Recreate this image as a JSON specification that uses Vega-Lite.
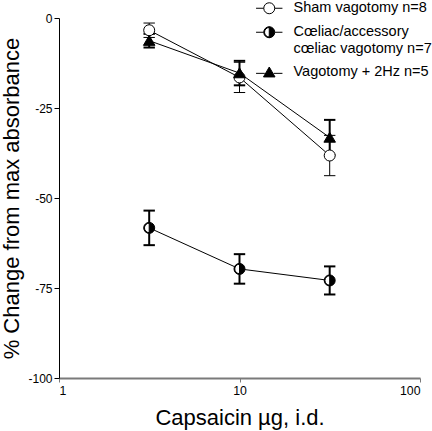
{
  "$schema": "https://vega.github.io/schema/vega-lite/v6.json",
  "width": 361,
  "height": 360,
  "autosize": {"type": "none"},
  "padding": {"left": 59, "top": 18, "right": 12, "bottom": 53},
  "background": "white",
  "config": {
    "view": {"stroke": null},
    "font": "Liberation Sans",
    "axis": {"labelFont": "Liberation Sans", "titleFont": "Liberation Sans", "grid": false, "labelColor": "black", "titleColor": "black", "titleFontWeight": "normal", "tickColor": "black", "domainColor": "black"}
  },
  "data": {
    "values": [
      {"g": "Sham vagotomy n=8", "dose": 3.16, "mean": -3.4, "lo": -5.4, "hi": -1.4},
      {"g": "Sham vagotomy n=8", "dose": 10, "mean": -16.5, "lo": -20.7, "hi": -12.3},
      {"g": "Sham vagotomy n=8", "dose": 31.6, "mean": -38.2, "lo": -43.8, "hi": -32.6},
      {"g": "Cœliac/accessory cœliac vagotomy n=7", "dose": 3.16, "mean": -58.3, "lo": -63.1, "hi": -53.5},
      {"g": "Cœliac/accessory cœliac vagotomy n=7", "dose": 10, "mean": -69.7, "lo": -73.8, "hi": -65.6},
      {"g": "Cœliac/accessory cœliac vagotomy n=7", "dose": 31.6, "mean": -72.9, "lo": -76.8, "hi": -69.0},
      {"g": "Vagotomy + 2Hz n=5", "dose": 3.16, "mean": -6.3, "lo": -8.2, "hi": -4.4},
      {"g": "Vagotomy + 2Hz n=5", "dose": 10, "mean": -15.3, "lo": -18.7, "hi": -11.9},
      {"g": "Vagotomy + 2Hz n=5", "dose": 31.6, "mean": -33.2, "lo": -38.1, "hi": -28.3}
    ]
  },
  "layer": [
    {
      "mark": {"type": "line", "color": "black", "strokeWidth": 1},
      "encoding": {
        "x": {"field": "dose", "type": "quantitative", "scale": {"type": "log", "domain": [1, 100], "padding": 0},
          "axis": {"values": [1, 10, 100], "labelExpr": "'' + datum.value", "title": "Capsaicin µg, i.d.", "titleFontSize": 22, "labelFontSize": 12.3, "tickSize": 4, "labelPadding": 2, "titlePadding": 11, "domainColor": "#7a7a7a", "domainWidth": 2, "tickColor": "#7a7a7a"}},
        "y": {"field": "mean", "type": "quantitative", "scale": {"domain": [-100, 0], "padding": 0},
          "axis": {"values": [0, -25, -50, -75, -100], "labelExpr": "'' + datum.value", "title": "% Change from max absorbance", "titleFontSize": 22, "labelFontSize": 12, "tickSize": 5, "labelPadding": 2, "titlePadding": 4}},
        "detail": {"field": "g"}
      }
    },
    {
      "mark": {"type": "rule", "color": "black"},
      "encoding": {
        "x": {"field": "dose", "type": "quantitative"},
        "y": {"field": "lo", "type": "quantitative"},
        "y2": {"field": "hi"},
        "strokeWidth": {"condition": {"test": "datum.g == 'Sham vagotomy n=8'", "value": 1}, "value": 2}
      }
    },
    {
      "mark": {"type": "point", "shape": "stroke", "stroke": "black", "size": 130, "opacity": 1},
      "encoding": {
        "x": {"field": "dose", "type": "quantitative"},
        "y": {"field": "lo", "type": "quantitative"},
        "strokeWidth": {"condition": {"test": "datum.g == 'Sham vagotomy n=8'", "value": 1}, "value": 2}
      }
    },
    {
      "mark": {"type": "point", "shape": "stroke", "stroke": "black", "size": 130, "opacity": 1},
      "encoding": {
        "x": {"field": "dose", "type": "quantitative"},
        "y": {"field": "hi", "type": "quantitative"},
        "strokeWidth": {"condition": {"test": "datum.g == 'Sham vagotomy n=8'", "value": 1}, "value": 2}
      }
    },
    {
      "transform": [{"filter": "datum.g == 'Cœliac/accessory cœliac vagotomy n=7'"}],
      "mark": {"type": "point", "shape": "circle", "filled": true, "fill": "white", "strokeWidth": 0, "size": 121, "opacity": 1},
      "encoding": {
        "x": {"field": "dose", "type": "quantitative"},
        "y": {"field": "mean", "type": "quantitative"}
      }
    },
    {
      "mark": {"type": "point", "filled": true, "stroke": "black", "strokeWidth": 1, "size": 121, "opacity": 1},
      "encoding": {
        "x": {"field": "dose", "type": "quantitative"},
        "y": {"field": "mean", "type": "quantitative"},
        "shape": {"condition": [
          {"test": "datum.g == 'Sham vagotomy n=8'", "value": "M-1,0A1,1,0,1,1,1,0A1,1,0,1,1,-1,0Z"},
          {"test": "datum.g == 'Vagotomy + 2Hz n=5'", "value": "M0,-0.95L1.05,0.85L-1.05,0.85Z"}
        ], "value": "M0,-1A1,1,0,0,1,0,1ZM0,1A1,1,0,0,1,0,-1L0,-0.86A0.86,0.86,0,0,0,0,0.86Z"},
        "fill": {"condition": {"test": "datum.g == 'Sham vagotomy n=8'", "value": "white"}, "value": "black"}
      }
    },
    {
      "transform": [{"filter": "false"}],
      "mark": {"type": "point", "filled": true, "strokeWidth": 1, "size": 121, "opacity": 1},
      "encoding": {
        "x": {"field": "dose", "type": "quantitative"},
        "y": {"field": "mean", "type": "quantitative"},
        "shape": {"field": "g", "type": "nominal",
          "scale": {"domain": ["Sham vagotomy n=8", "Cœliac/accessory cœliac vagotomy n=7", "Vagotomy + 2Hz n=5"],
            "range": ["M-1,0A1,1,0,1,1,1,0A1,1,0,1,1,-1,0ZM-2.4,0H-1M1,0H2.4", "M0,-1A1,1,0,0,1,0,1ZM0,1A1,1,0,0,1,0,-1L0,-0.86A0.86,0.86,0,0,0,0,0.86ZM-2.4,0H-1M1,0H2.4", "M0,-0.95L1.05,0.85L-1.05,0.85ZM-2.4,0.2H-0.8M0.8,0.2H2.4"]},
          "legend": {"orient": "none", "legendX": 203, "legendY": -17, "title": null, "labelFont": "Liberation Sans", "labelFontSize": 14.5, "labelColor": "black", "labelOffset": 17, "rowPadding": 8, "symbolSize": 121, "symbolStrokeWidth": 1, "symbolOpacity": 1, "labelLimit": 300,
            "labelExpr": "datum.label == 'Cœliac/accessory cœliac vagotomy n=7' ? ['Cœliac/accessory', 'cœliac vagotomy n=7'] : datum.label",
            "encode": {"labels": {"lineHeight": {"value": 18}}}
          }},
        "fill": {"field": "g", "type": "nominal",
          "scale": {"domain": ["Sham vagotomy n=8", "Cœliac/accessory cœliac vagotomy n=7", "Vagotomy + 2Hz n=5"], "range": ["white", "black", "black"]}},
        "stroke": {"field": "g", "type": "nominal",
          "scale": {"domain": ["Sham vagotomy n=8", "Cœliac/accessory cœliac vagotomy n=7", "Vagotomy + 2Hz n=5"], "range": ["black", "black", "black"]}}
      }
    }
  ]
}
